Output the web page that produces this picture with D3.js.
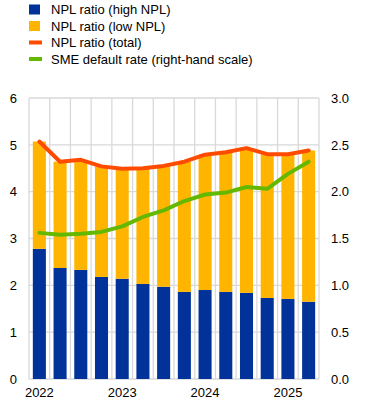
<!DOCTYPE html>
<html>
<head>
<meta charset="utf-8">
<script src="https://cdn.jsdelivr.net/npm/d3@7"></script>
<style>
  body { margin: 0; background: #fff; }
  text { font-family: Arial, "Liberation Sans", sans-serif; fill: #000; }
</style>
</head>
<body>
<svg id="chart" width="372" height="406"></svg>
<script>
// chart values (quarterly, 2022 Q1 - 2025 Q2)
const quarters = ['2022Q1', '2022Q2', '2022Q3', '2022Q4',
                  '2023Q1', '2023Q2', '2023Q3', '2023Q4',
                  '2024Q1', '2024Q2', '2024Q3', '2024Q4',
                  '2025Q1', '2025Q2'];
const highNpl = [2.78, 2.37, 2.33, 2.18, 2.14, 2.03, 1.97, 1.86, 1.90, 1.86, 1.84, 1.73, 1.71, 1.65];
const totalNpl = [5.07, 4.64, 4.68, 4.54, 4.49, 4.50, 4.55, 4.64, 4.79, 4.84, 4.93, 4.80, 4.80, 4.88];
const smeDefault = [1.56, 1.54, 1.55, 1.57, 1.63, 1.73, 1.80, 1.90, 1.97, 1.99, 2.05, 2.03, 2.19, 2.32];
const lowNpl = totalNpl.map((t, i) => t - highNpl[i]);

const leftTicks = [0, 1, 2, 3, 4, 5, 6];
const rightTicks = [0, 0.5, 1, 1.5, 2, 2.5, 3];
const yearLabels = {'2022Q1': '2022', '2023Q1': '2023', '2024Q1': '2024', '2025Q1': '2025'};

const legendItems = [
  {label: 'NPL ratio (high NPL)', color: '#003299', type: 'box'},
  {label: 'NPL ratio (low NPL)', color: '#ffb400', type: 'box'},
  {label: 'NPL ratio (total)', color: '#ff4b00', type: 'line'},
  {label: 'SME default rate (right-hand scale)', color: '#65b800', type: 'line'}
];

const margin = {top: 98, left: 29, right: 53, bottom: 27};
const width = 372;
const height = 406;
const fontSize = 13;
const gridColor = '#d9d9d9';

const svg = d3.select('#chart');

const x = d3.scaleBand()
            .domain(quarters)
            .range([margin.left, width - margin.right])
            .paddingInner(0.37)
            .paddingOuter(0.185);

const yLeft = d3.scaleLinear()
                .domain([0, 6])
                .range([height - margin.bottom, margin.top]);

const yRight = d3.scaleLinear()
                 .domain([0, 3])
                 .range([height - margin.bottom, margin.top]);

// gridlines
const grid = svg.append('g').attr('id', 'grid');
const step = x.step();
const bounds = d3.range(quarters.length + 1).map(i => margin.left + i * step);

grid.selectAll('line.v')
    .data(bounds)
    .enter().append('line')
    .attr('class', 'v')
    .attr('x1', d => d).attr('x2', d => d)
    .attr('y1', yLeft(6)).attr('y2', yLeft(0))
    .attr('stroke', gridColor)
    .attr('stroke-width', 1.3);

grid.selectAll('line.h')
    .data(leftTicks)
    .enter().append('line')
    .attr('class', 'h')
    .attr('x1', margin.left).attr('x2', width - margin.right)
    .attr('y1', d => yLeft(d)).attr('y2', d => yLeft(d))
    .attr('stroke', gridColor)
    .attr('stroke-width', 1.3);

// stacked bars
const stackData = quarters.map((q, i) => ({q: q, high: highNpl[i], low: lowNpl[i]}));
const series = d3.stack().keys(['high', 'low'])(stackData);
const barColors = {high: '#003299', low: '#ffb400'};

svg.append('g').attr('id', 'bars')
   .selectAll('g')
   .data(series)
   .enter().append('g')
   .attr('fill', d => barColors[d.key])
   .selectAll('rect')
   .data(d => d)
   .enter().append('rect')
   .attr('x', d => x(d.data.q))
   .attr('width', x.bandwidth())
   .attr('y', d => yLeft(d[1]))
   .attr('height', d => yLeft(d[0]) - yLeft(d[1]));

// lines
const cx = q => x(q) + x.bandwidth() / 2;

const totalLine = d3.line()
                    .x((d, i) => cx(quarters[i]))
                    .y(d => yLeft(d));

const smeLine = d3.line()
                  .x((d, i) => cx(quarters[i]))
                  .y(d => yRight(d));

svg.append('path')
   .datum(totalNpl)
   .attr('d', totalLine)
   .attr('fill', 'none')
   .attr('stroke', '#ff4b00')
   .attr('stroke-width', 4)
   .attr('stroke-linejoin', 'round')
   .attr('stroke-linecap', 'round');

svg.append('path')
   .datum(smeDefault)
   .attr('d', smeLine)
   .attr('fill', 'none')
   .attr('stroke', '#65b800')
   .attr('stroke-width', 4)
   .attr('stroke-linejoin', 'round')
   .attr('stroke-linecap', 'round');

// axes
const leftAxis = d3.axisLeft(yLeft)
                   .tickValues(leftTicks)
                   .tickFormat(d3.format('d'))
                   .tickSize(0)
                   .tickPadding(12);

const rightAxis = d3.axisRight(yRight)
                    .tickValues(rightTicks)
                    .tickFormat(d3.format('.1f'))
                    .tickSize(0)
                    .tickPadding(12);

const bottomAxis = d3.axisBottom(x)
                     .tickValues(Object.keys(yearLabels))
                     .tickFormat(d => yearLabels[d])
                     .tickSize(0)
                     .tickPadding(9);

svg.append('g')
   .attr('transform', 'translate(' + margin.left + ',0)')
   .call(leftAxis)
   .call(g => g.select('.domain').remove());

svg.append('g')
   .attr('transform', 'translate(' + (width - margin.right) + ',0)')
   .call(rightAxis)
   .call(g => g.select('.domain').remove());

svg.append('g')
   .attr('transform', 'translate(0,' + (height - margin.bottom) + ')')
   .call(bottomAxis)
   .call(g => g.select('.domain').remove());

svg.selectAll('.tick text')
   .attr('font-size', fontSize)
   .attr('font-family', 'Arial, "Liberation Sans", sans-serif')
   .attr('fill', '#000');

// legend
const legend = svg.append('g').attr('id', 'legend');
const rows = legend.selectAll('g')
                   .data(legendItems)
                   .enter().append('g')
                   .attr('transform', (d, i) => 'translate(29,' + (9.5 + i * 16.5) + ')');

rows.filter(d => d.type === 'box')
    .append('rect')
    .attr('x', 0).attr('y', -5)
    .attr('width', 11).attr('height', 10)
    .attr('fill', d => d.color);

rows.filter(d => d.type === 'line')
    .append('rect')
    .attr('x', 0).attr('y', -2)
    .attr('width', 13).attr('height', 4)
    .attr('fill', d => d.color);

rows.append('text')
    .attr('x', 22)
    .attr('dy', '0.35em')
    .attr('font-size', fontSize)
    .text(d => d.label);
</script>
</body>
</html>
